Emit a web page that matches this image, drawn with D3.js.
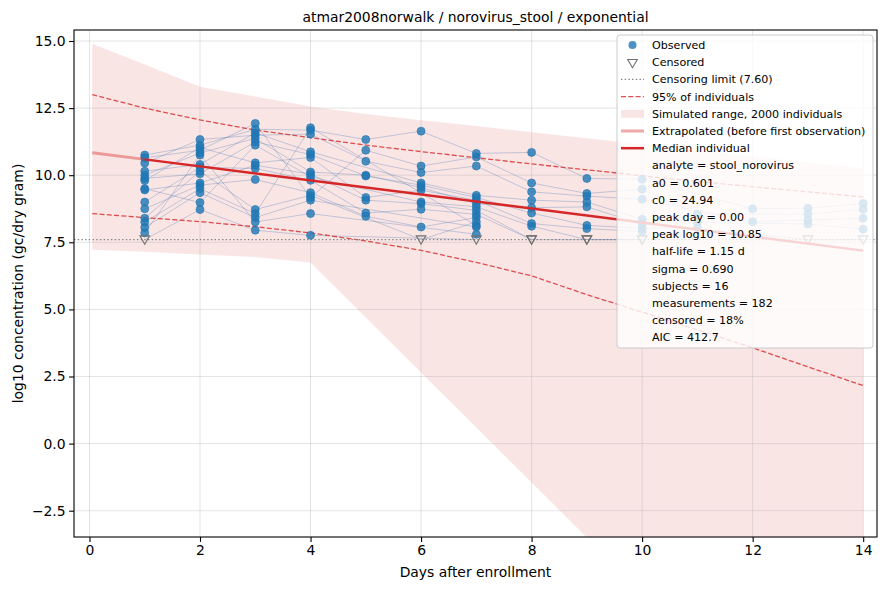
<!DOCTYPE html>
<html>
<head>
<meta charset="utf-8">
<script src="https://cdn.jsdelivr.net/npm/d3@7/dist/d3.min.js"></script>
<style>
  html, body { margin: 0; padding: 0; background: #fff; }
  svg { display: block; font-family: "DejaVu Sans", sans-serif; }
</style>
</head>
<body>
<svg id="chart" width="890" height="590"></svg>
<script>
// ---------------- data ----------------
const titleText = "atmar2008norwalk / norovirus_stool / exponential";
const xLabel = "Days after enrollment";
const yLabel = "log10 concentration (gc/dry gram)";
const xTicks = [0, 2, 4, 6, 8, 10, 12, 14];
const yTicks = [-2.5, 0, 2.5, 5, 7.5, 10, 12.5, 15];
const censorLimit = 7.60;

const days = [1, 2, 3, 4, 5, 6, 7, 8, 9, 10, 11, 12, 13, 14];
// one row per subject, one entry per day; null = no sample, "C" = censored
const subjects = [
  [10.75, 11.12, 11.71, 11.68, 11.33, 11.64, 10.81, 10.85, 9.88, 9.85, null, 8.75, 8.77, 8.95],
  [10.65, 10.93, 11.93, 9.17, 10.93, 10.34, 10.68, 9.71, 9.32, 9.48, 8.55, null, 8.55, 8.73],
  [10.45, 11.33, 11.49, 11.53, 10.52, 10.10, 10.34, 9.38, 9.22, 9.10, null, 8.27, 8.33, 8.40],
  [10.15, 10.40, 11.58, 10.87, null, 9.71, 9.25, 9.07, 9.00, 8.36, 8.25, null, 8.18, 7.99],
  [10.00, 10.83, 11.37, 10.12, 10.00, 9.54, 8.94, 8.79, 8.82, 8.18, null, null, "C", "C"],
  [9.88, 10.05, 11.24, 10.77, 9.97, 9.63, 9.17, 8.59, 8.13, 8.02, 8.05, null, null, null],
  [9.80, 11.03, 10.46, 10.66, 9.17, 9.44, 9.07, 8.20, 8.01, 7.90, null, null, null, null],
  [9.50, 8.98, 11.12, 9.94, null, 9.00, 8.82, 8.10, "C", "C", null, null, null, null],
  [9.45, 9.71, 10.37, 10.04, 9.07, 8.94, 8.69, "C", "C", "C", null, null, null, null],
  [9.00, 10.30, 10.25, 9.81, 8.59, 8.73, 8.54, "C", null, null, null, null, null, null],
  [8.75, 9.63, 9.84, 9.35, 8.47, 8.07, 8.42, null, null, null, null, null, null, null],
  [8.40, 10.15, 8.72, 9.25, null, "C", 8.26, null, null, null, null, null, null, null],
  [8.25, 9.50, 8.57, 11.77, null, null, 8.13, null, null, null, null, null, null, null],
  [8.05, 9.35, 8.42, 9.07, null, null, 8.07, null, null, null, null, null, null, null],
  [7.85, 10.75, 8.26, 8.57, null, null, 7.80, null, null, null, null, null, null, null],
  ["C", 8.72, 7.95, 7.76, null, null, "C", null, null, null, null, null, null, null]
];

// simulated population curves
const curveDays = [0.05, 1, 2, 3, 4, 5, 6, 7, 8, 9, 10, 11, 12, 13, 14];
const simUpper = [14.90, 14.12, 13.30, 12.93, 12.56, 12.28, 12.05, 11.83, 11.60, 11.38, 11.15, 10.93, 10.70, 10.48, 10.25];
const simLower = [7.22, 7.15, 7.05, 6.95, 6.75, 4.70, 2.65, 0.60, -1.45, -3.50, -5.60, -7.60, -9.60, -11.60, -13.60];
const pi95Upper = [13.00, 12.50, 12.06, 11.68, 11.40, 11.12, 10.88, 10.65, 10.42, 10.20, 9.98, 9.77, 9.57, 9.38, 9.19];
const pi95Lower = [8.57, 8.42, 8.27, 8.08, 7.85, 7.55, 7.20, 6.75, 6.25, 5.55, 4.90, 4.24, 3.57, 2.86, 2.16];
const medianDays = [1, 14];
const medianVals = [10.59, 7.19];
const extrapDays = [0.05, 1];
const extrapVals = [10.84, 10.59];

const legendItems = [
  { key: "obs", label: "Observed" },
  { key: "cens", label: "Censored" },
  { key: "limit", label: "Censoring limit (7.60)" },
  { key: "pi", label: "95% of individuals" },
  { key: "band", label: "Simulated range, 2000 individuals" },
  { key: "extrap", label: "Extrapolated (before first observation)" },
  { key: "median", label: "Median individual" },
  { key: "", label: "analyte = stool_norovirus" },
  { key: "", label: "a0 = 0.601" },
  { key: "", label: "c0 = 24.94" },
  { key: "", label: "peak day = 0.00" },
  { key: "", label: "peak log10 = 10.85" },
  { key: "", label: "half-life = 1.15 d" },
  { key: "", label: "sigma = 0.690" },
  { key: "", label: "subjects = 16" },
  { key: "", label: "measurements = 182" },
  { key: "", label: "censored = 18%" },
  { key: "", label: "AIC = 412.7" }
];

// ---------------- layout ----------------
const L = 74, R = 877, T = 30, B = 537;
const RED = "#d62728", BLUE = "#1f77b4";
const svg = d3.select("#chart");
const x = d3.scaleLinear().domain([-0.28, 14.25]).range([L, R]);
const y = d3.scaleLinear().domain([-3.48, 15.41]).range([B, T]);

svg.append("defs").append("clipPath").attr("id", "clip")
  .append("rect").attr("x", L).attr("y", T).attr("width", R - L).attr("height", B - T);
const plot = svg.append("g").attr("clip-path", "url(#clip)");

// simulated band
const area = d3.area().x((d, i) => x(curveDays[i])).y0((d, i) => y(simLower[i])).y1((d, i) => y(simUpper[i]));
plot.append("path").datum(curveDays).attr("d", area).attr("fill", RED).attr("fill-opacity", 0.12);

// grid
const grid = plot.append("g").attr("stroke", "#b0b0b0").attr("stroke-opacity", 0.45).attr("stroke-width", 0.8);
xTicks.forEach(t => grid.append("line").attr("x1", x(t)).attr("x2", x(t)).attr("y1", T).attr("y2", B));
yTicks.forEach(t => grid.append("line").attr("y1", y(t)).attr("y2", y(t)).attr("x1", L).attr("x2", R));

// subject trajectories
const valOf = v => (v === "C" ? censorLimit : v);
const subjLine = d3.line().x(d => x(d.day)).y(d => y(valOf(d.v)));
subjects.forEach(row => {
  const pts = row.map((v, i) => ({ day: days[i], v })).filter(d => d.v !== null);
  plot.append("path").datum(pts).attr("d", subjLine).attr("fill", "none")
    .attr("stroke", "#4a78b0").attr("stroke-opacity", 0.32).attr("stroke-width", 1);
});

// 95% lines
const cLine = arr => d3.line().x((d, i) => x(curveDays[i])).y((d, i) => y(arr[i]));
[pi95Upper, pi95Lower].forEach(arr => {
  plot.append("path").datum(arr).attr("d", cLine(arr)).attr("fill", "none")
    .attr("stroke", RED).attr("stroke-opacity", 0.8).attr("stroke-width", 1.3)
    .attr("stroke-dasharray", "5,2.3");
});

// censoring limit
plot.append("line").attr("x1", L).attr("x2", R).attr("y1", y(censorLimit)).attr("y2", y(censorLimit))
  .attr("stroke", "#808080").attr("stroke-width", 1.4).attr("stroke-dasharray", "1.4,2.3");

// points
const obs = [], cens = [];
subjects.forEach(row => row.forEach((v, i) => {
  if (v === null) return;
  if (v === "C") cens.push({ day: days[i] }); else obs.push({ day: days[i], v });
}));
plot.append("g").selectAll("circle").data(obs).join("circle")
  .attr("cx", d => x(d.day)).attr("cy", d => y(d.v)).attr("r", 4)
  .attr("fill", BLUE).attr("fill-opacity", 0.8).attr("stroke", BLUE).attr("stroke-opacity", 0.8).attr("stroke-width", 0.8);
const tri = d3.symbol().type(d3.symbolTriangle).size(40);
plot.append("g").selectAll("path").data(cens).join("path")
  .attr("d", tri).attr("transform", d => `translate(${x(d.day)},${y(censorLimit) - 1}) rotate(180)`)
  .attr("fill", "none").attr("stroke", "#707070").attr("stroke-width", 1.1);

// extrapolated + median
const simpleLine = (xs, ys) => d3.line().x((d, i) => x(xs[i])).y((d, i) => y(ys[i]))(xs);
plot.append("path").attr("d", simpleLine(extrapDays, extrapVals)).attr("fill", "none")
  .attr("stroke", RED).attr("stroke-opacity", 0.4).attr("stroke-width", 3);
plot.append("path").attr("d", simpleLine(medianDays, medianVals)).attr("fill", "none")
  .attr("stroke", RED).attr("stroke-width", 2.5);

// axes
const fmtY = d => d.toFixed(1).replace("-", "\u2212");
const xAxis = svg.append("g").attr("transform", `translate(0,${B})`)
  .call(d3.axisBottom(x).tickValues(xTicks).tickFormat(d3.format("d")).tickSize(4.9).tickPadding(3.5));
const yAxis = svg.append("g").attr("transform", `translate(${L},0)`)
  .call(d3.axisLeft(y).tickValues(yTicks).tickFormat(fmtY).tickSize(4.9).tickPadding(3.5));
[xAxis, yAxis].forEach(a => {
  a.select(".domain").remove();
  a.selectAll("line").attr("stroke", "#000").attr("stroke-width", 1.1);
  a.selectAll("text").attr("font-size", 13.9).attr("fill", "#000").attr("font-family", "DejaVu Sans");
});
svg.append("rect").attr("x", L).attr("y", T).attr("width", R - L).attr("height", B - T)
  .attr("fill", "none").attr("stroke", "#000").attr("stroke-width", 1.1);

// labels
svg.append("text").attr("x", (L + R) / 2).attr("y", 22).attr("text-anchor", "middle")
  .attr("font-size", 13.9).text(titleText);
svg.append("text").attr("x", (L + R) / 2).attr("y", 577).attr("text-anchor", "middle")
  .attr("font-size", 13.9).text(xLabel);
svg.append("text").attr("transform", `translate(23,${(T + B) / 2}) rotate(-90)`).attr("text-anchor", "middle")
  .attr("font-size", 13.9).text(yLabel);

// legend
const lg = svg.append("g");
const lgX = 617, lgY = 35, lgW = 256, lgH = 313, rowH = 17.2, row0 = 45;
lg.append("rect").attr("x", lgX).attr("y", lgY).attr("width", lgW).attr("height", lgH).attr("rx", 3)
  .attr("fill", "#fff").attr("fill-opacity", 0.8).attr("stroke", "#cccccc").attr("stroke-width", 1);
legendItems.forEach((it, i) => {
  const cy = row0 + i * rowH;
  const hx0 = 621, hx1 = 644, hc = 632.5;
  if (it.key === "obs") {
    lg.append("circle").attr("cx", hc).attr("cy", cy).attr("r", 4).attr("fill", BLUE).attr("fill-opacity", 0.8);
  } else if (it.key === "cens") {
    lg.append("path").attr("d", tri).attr("transform", `translate(${hc},${cy}) rotate(180)`)
      .attr("fill", "none").attr("stroke", "#707070").attr("stroke-width", 1.1);
  } else if (it.key === "limit") {
    lg.append("line").attr("x1", hx0).attr("x2", hx1).attr("y1", cy).attr("y2", cy)
      .attr("stroke", "#808080").attr("stroke-width", 1.4).attr("stroke-dasharray", "1.4,2.3");
  } else if (it.key === "pi") {
    lg.append("line").attr("x1", hx0).attr("x2", hx1).attr("y1", cy).attr("y2", cy)
      .attr("stroke", RED).attr("stroke-opacity", 0.8).attr("stroke-width", 1.3).attr("stroke-dasharray", "5,2.3");
  } else if (it.key === "band") {
    lg.append("rect").attr("x", hx0).attr("y", cy - 4).attr("width", hx1 - hx0).attr("height", 8)
      .attr("fill", RED).attr("fill-opacity", 0.12);
  } else if (it.key === "extrap") {
    lg.append("line").attr("x1", hx0).attr("x2", hx1).attr("y1", cy).attr("y2", cy)
      .attr("stroke", RED).attr("stroke-opacity", 0.4).attr("stroke-width", 3);
  } else if (it.key === "median") {
    lg.append("line").attr("x1", hx0).attr("x2", hx1).attr("y1", cy).attr("y2", cy)
      .attr("stroke", RED).attr("stroke-width", 2.5);
  }
  lg.append("text").attr("x", 652).attr("y", cy).attr("dy", "0.36em")
    .attr("font-size", 11.1).attr("fill", "#000").text(it.label);
});
</script>
</body>
</html>
